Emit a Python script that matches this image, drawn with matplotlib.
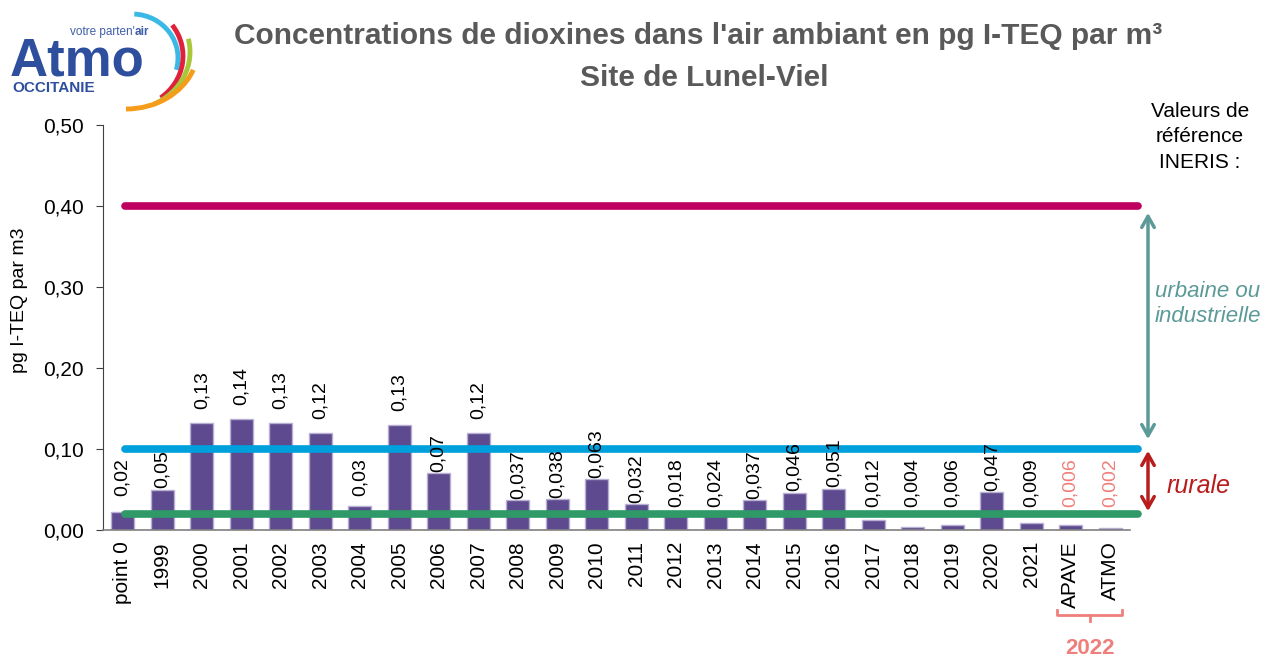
import matplotlib
matplotlib.use("Agg")
from matplotlib import pyplot as plt
from matplotlib.patches import Arc
from matplotlib.ticker import FuncFormatter

plt.rcParams['font.family'] = ['Liberation Sans', 'DejaVu Sans']

categories = ['point 0', '1999', '2000', '2001', '2002', '2003', '2004', '2005', '2006', '2007',
              '2008', '2009', '2010', '2011', '2012', '2013', '2014', '2015', '2016', '2017',
              '2018', '2019', '2020', '2021', 'APAVE', 'ATMO']
values = [0.022, 0.05, 0.132, 0.137, 0.132, 0.12, 0.03, 0.13, 0.07, 0.12,
          0.037, 0.038, 0.063, 0.032, 0.018, 0.024, 0.037, 0.046, 0.051, 0.012,
          0.004, 0.006, 0.047, 0.009, 0.006, 0.002]
value_labels = ['0,02', '0,05', '0,13', '0,14', '0,13', '0,12', '0,03', '0,13', '0,07', '0,12',
                '0,037', '0,038', '0,063', '0,032', '0,018', '0,024', '0,037', '0,046', '0,051', '0,012',
                '0,004', '0,006', '0,047', '0,009', '0,006', '0,002']
ref_urbaine = 0.40
ref_rurale_max = 0.10
ref_rurale_min = 0.02

bar_col = '#5E4A8E'
salmon = '#EF7F7B'
teal = '#5B9A98'
red = '#B91C1C'

fig = plt.figure(figsize=(12.7, 6.59), dpi=100)
ax = fig.add_axes([103/1270, 1 - 530/659, 1027/1270, 405/659])

x = list(range(len(categories)))
ax.bar(x, values, width=0.58, color=bar_col, edgecolor='#B9AED3', linewidth=1, zorder=2)

# reference lines (INERIS)
for val, col in [(ref_urbaine, '#C0005E'), (ref_rurale_max, '#00A0DC'), (ref_rurale_min, '#2F9A67')]:
    ax.plot([0.05, 25.7], [val, val], color=col, lw=5.5, solid_capstyle='round', clip_on=False, zorder=3)

# value labels
for i, (v, lab) in enumerate(zip(values, value_labels)):
    col = salmon if categories[i] in ('APAVE', 'ATMO') else 'black'
    if v > 0.1:
        ax.annotate(lab, (i, v), xytext=(0, 10), textcoords='offset points', rotation=90,
                    ha='center', va='bottom', fontsize=14, color=col, zorder=4)
    elif v >= 0.031:
        ax.annotate(lab, (i, v), xytext=(0, 1), textcoords='offset points', rotation=90,
                    ha='center', va='bottom', fontsize=14, color=col, zorder=4)
    else:
        ax.text(i, 0.089, lab, rotation=90, ha='center', va='top', fontsize=14, color=col, zorder=4)

ax.set_xlim(-0.5, len(categories) - 0.5)
ax.set_ylim(0, 0.5)
ax.set_yticks([0, 0.1, 0.2, 0.3, 0.4, 0.5])
ax.yaxis.set_major_formatter(FuncFormatter(lambda v, p: f"{v:.2f}".replace('.', ',')))
ax.set_xticks(x)
ax.set_xticklabels(categories, rotation=90, fontsize=15)
ax.tick_params(axis='x', length=0, pad=8)
ax.tick_params(axis='y', length=5, direction='out', labelsize=15, color='#404040', pad=9)
for s in ['top', 'right']:
    ax.spines[s].set_visible(False)
ax.spines['left'].set_color('#404040')
ax.spines['bottom'].set_color('#808080')
ax.spines['bottom'].set_linewidth(1.2)

# overlay in pixel coordinates (y up)
ov = fig.add_axes([0, 0, 1, 1], zorder=5)
ov.set_xlim(0, 1270)
ov.set_ylim(0, 659)
ov.axis('off')
ov.patch.set_alpha(0)

def Y(py):
    return 659 - py

fig.text(20/1270, Y(300)/659, 'pg I-TEQ par m3', rotation=90, ha='center', va='center', fontsize=14)

ov.text(698, Y(36), "Concentrations de dioxines dans l'air ambiant en pg I-TEQ par m³",
        ha='center', va='center', fontsize=21.5, fontweight='bold', color='#595959')
ov.text(704, Y(78), 'Site de Lunel-Viel', ha='center', va='center', fontsize=21.5,
        fontweight='bold', color='#595959')

ov.text(1200, Y(137), 'Valeurs de\nréférence\nINERIS :', ha='center', va='center',
        fontsize=15, linespacing=1.45)
ov.annotate('', xy=(1148, Y(210)), xytext=(1148, Y(442)),
            arrowprops=dict(arrowstyle='<->,head_length=0.8,head_width=0.45', color=teal, lw=2.5))
ov.text(1208, Y(304), 'urbaine ou\nindustrielle', ha='center', va='center', fontsize=16,
        style='italic', color=teal, linespacing=1.3)
ov.annotate('', xy=(1148, Y(448)), xytext=(1148, Y(514)),
            arrowprops=dict(arrowstyle='<->,head_length=0.8,head_width=0.45', color=red, lw=2.5))
ov.text(1199, Y(486), 'rurale', ha='center', va='center', fontsize=18, style='italic', color=red)

# 2022 bracket
ov.plot([1057, 1057, 1122, 1122], [Y(610), Y(615), Y(615), Y(610)], color=salmon, lw=2)
ov.plot([1090, 1090], [Y(615), Y(621)], color=salmon, lw=2)
ov.text(1090, Y(648), '2022', ha='center', va='center', fontsize=16, fontweight='bold', color=salmon)

# logo
blue = '#2E4E9E'
ov.text(10, Y(75), 'Atmo', ha='left', va='baseline', fontsize=38, fontweight='bold', color=blue)
ov.text(135, Y(35), "votre parten'", ha='right', va='baseline', fontsize=8.5, color='#3F5DAA')
ov.text(135, Y(35), 'air', ha='left', va='baseline', fontsize=8.5, fontweight='bold', color='#3F5DAA')
ov.text(12, Y(92), 'OCCITANIE', ha='left', va='baseline', fontsize=11, fontweight='bold', color=blue)
for (cx, cy, w, h, t1, t2, c) in [(132, 58, 92, 88, -15, 87, '#3BB9E6'),
                                  (128, 56, 110, 104, -52, 35, '#E0213C'),
                                  (126, 52, 128, 116, -62, 12, '#A8C83A'),
                                  (126, 48, 144, 122, -90, -18, '#F59C1A')]:
    ov.add_patch(Arc((cx, Y(cy)), w, h, theta1=t1, theta2=t2, color=c, lw=3.5))

fig.savefig('out.png', dpi=100)
